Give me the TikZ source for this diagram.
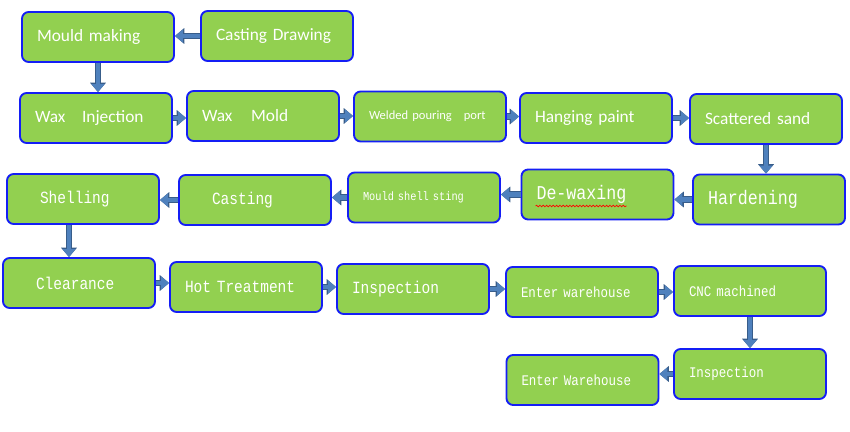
\documentclass[tikz,border=0pt]{standalone}
\usepackage{fontspec}
\usetikzlibrary{arrows.meta,calc,decorations.pathmorphing}
\newfontfamily\calfont{Carlito}
\newfontfamily\simfont[FakeStretch=0.85]{Liberation Mono}
\definecolor{stagegreen}{RGB}{146,208,80}
\definecolor{stageedge}{RGB}{20,30,245}
\definecolor{flowfill}{RGB}{79,129,189}
\definecolor{flowedge}{RGB}{56,93,138}
\tikzset{
  stage/.style={draw=stageedge, fill=stagegreen, line width=1.4pt, rounded corners=5pt,
    minimum width=114pt, minimum height=37.5pt, text width=91.5pt, inner xsep=11.25pt,
    inner ysep=0pt, align=left, text=white},
  cal/.style={font=\calfont\fontsize{#1}{#1}\selectfont},
  sim/.style={font=\simfont\fontsize{#1}{#1}\selectfont},
  flow/.style={draw=flowfill, line width=3.6pt, -{Triangle[length=6pt,width=9.5pt]},
    preaction={draw=flowedge, line width=5pt, -{Triangle[length=7pt,width=11.5pt]}}},
}

\begin{document}
\begin{tikzpicture}[x=0.75pt,y=-0.75pt]
    \fill[white] (0,0) rectangle (850,432);

    \node[stage,cal=13pt] at (98,37)    (mould)   {Mould making};
    \node[stage,cal=13pt] at (277,36)   (drawing) {Casting Drawing};
    \node[stage,cal=13pt] at (96,118)   (inject)  {Wax\hspace{12.5pt}Injection};
    \node[stage,cal=13pt] at (263,116)  (waxmold) {Wax\hspace{14pt}Mold};
    \node[stage,cal=9.4pt] at (430,116.5) (weld)  {Welded pouring\hspace{9pt}port};
    \node[stage,cal=13pt] at (596,118)  (paint)   {Hanging paint};
    \node[stage,cal=13pt] at (766,119)  (sand)    {Scattered sand};

    \node[stage,sim=14.7pt] at (769,199.5) (harden) {Hardening};
    \node[stage,sim=14.7pt] at (597.5,194.5) (dewax) {De-waxing};
    \node[stage,sim=9.1pt] at (424,197.5) (sting)   {Mould shell sting};
    \node[stage,sim=12.8pt] at (255,200)  (cast)    {\hspace*{13.5pt}Casting};
    \node[stage,sim=12.8pt] at (83,199)   (shell)   {\hspace*{13.5pt}Shelling};

    \node[stage,sim=12.8pt] at (79,283)   (clear)   {\hspace*{13.5pt}Clearance};
    \node[stage,sim=12.8pt] at (246,287)  (heat)    {Hot Treatment};
    \node[stage,sim=12.8pt] at (413,289)  (inspA)   {Inspection};
    \node[stage,sim=11pt] at (582,292)    (store)   {Enter warehouse};
    \node[stage,sim=11pt] at (750,291)    (cnc)     {CNC machined};
    \node[stage,sim=11pt] at (750,374)    (inspB)   {Inspection};
    \node[stage,sim=11pt] at (582.5,380)  (final)   {Enter Warehouse};

    % spell-check mark under De-waxing
    \draw[red, line width=0.5pt, decorate,
      decoration={snake, amplitude=0.6pt, segment length=2.5pt}]
      ($(dewax.west)+(15,11.5)$) -- ++(91,0);

    \draw[flow] (drawing) -- (drawing -| mould.east);
    \draw[flow] (mould) -- (mould |- inject.north);
    \draw[flow] (inject) -- (inject -| waxmold.west);
    \draw[flow] (waxmold) -- (waxmold -| weld.west);
    \draw[flow] (weld) -- (weld -| paint.west);
    \draw[flow] (paint) -- (paint -| sand.west);
    \draw[flow] (sand) -- (sand |- harden.north);
    \draw[flow] (harden) -- (harden -| dewax.east);
    \draw[flow] (dewax) -- (dewax -| sting.east);
    \draw[flow] (sting) -- (sting -| cast.east);
    \draw[flow] (cast) -- (cast -| shell.east);
    \draw[flow] ([xshift=-10.5pt]shell.south) -- ([xshift=-10.5pt]shell.south |- clear.north);
    \draw[flow] (clear) -- (clear -| heat.west);
    \draw[flow] (heat) -- (heat -| inspA.west);
    \draw[flow] (inspA) -- (inspA -| store.west);
    \draw[flow] (store) -- (store -| cnc.west);
    \draw[flow] (cnc) -- (cnc |- inspB.north);
    \draw[flow] (inspB) -- (inspB -| final.east);
\end{tikzpicture}
\end{document}
